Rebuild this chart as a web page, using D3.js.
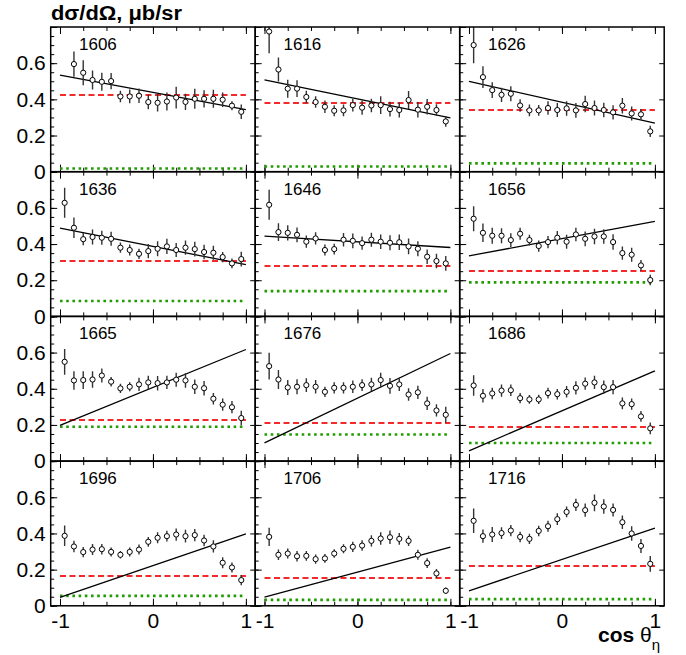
<!DOCTYPE html>
<html>
<head>
<meta charset="utf-8">
<script src="https://cdn.jsdelivr.net/npm/d3@7"></script>
<style>
body { margin: 0; background: #fff; }
text { font-family: "Liberation Sans", Arial, Helvetica, sans-serif; }
</style>
</head>
<body>
<svg id="chart"></svg>
<script>
// bin centres in cos(theta_eta)
var cosTheta = [-0.95, -0.85, -0.75, -0.65, -0.55, -0.45, -0.35, -0.25, -0.15, -0.05,
                0.05, 0.15, 0.25, 0.35, 0.45, 0.55, 0.65, 0.75, 0.85, 0.95];
var energies = ["1606", "1616", "1626", "1636", "1646", "1656",
                "1665", "1676", "1686", "1696", "1706", "1716"];
var yTicks = [0, 0.2, 0.4, 0.6];
var yTickLabels = ["0", "0.2", "0.4", "0.6"];
var xTicks = [-1, 0, 1];
var xTickLabels = ["-1", "0", "1"];

// measured cross sections (first 1606 bin is off scale)
var v1606 = [null, 0.595, 0.547, 0.507, 0.497, 0.501, 0.416, 0.416, 0.420, 0.385, 0.381, 0.388, 0.410, 0.386, 0.403, 0.403, 0.403, 0.398, 0.365, 0.331];
var v1616 = [0.775, 0.565, 0.459, 0.459, 0.413, 0.385, 0.359, 0.337, 0.339, 0.368, 0.354, 0.366, 0.368, 0.346, 0.341, 0.396, 0.343, 0.359, 0.341, 0.278];
var v1626 = [0.700, 0.523, 0.451, 0.425, 0.431, 0.366, 0.339, 0.339, 0.352, 0.341, 0.350, 0.339, 0.374, 0.352, 0.341, 0.328, 0.365, 0.322, 0.317, 0.223];
var v1636 = [0.628, 0.490, 0.427, 0.439, 0.435, 0.429, 0.380, 0.367, 0.346, 0.361, 0.374, 0.387, 0.367, 0.380, 0.372, 0.356, 0.352, 0.328, 0.293, 0.317];
var v1646 = [0.617, 0.466, 0.462, 0.451, 0.413, 0.431, 0.367, 0.372, 0.424, 0.418, 0.405, 0.424, 0.413, 0.407, 0.410, 0.387, 0.374, 0.330, 0.306, 0.293];
var v1656 = [0.540, 0.462, 0.446, 0.446, 0.422, 0.457, 0.422, 0.389, 0.411, 0.435, 0.413, 0.453, 0.429, 0.442, 0.442, 0.411, 0.350, 0.341, 0.282, 0.201];
var v1665 = [0.549, 0.446, 0.448, 0.451, 0.473, 0.439, 0.402, 0.411, 0.424, 0.435, 0.431, 0.435, 0.450, 0.446, 0.411, 0.403, 0.345, 0.312, 0.298, 0.238];
var v1676 = [0.525, 0.451, 0.407, 0.411, 0.420, 0.411, 0.383, 0.405, 0.405, 0.411, 0.420, 0.424, 0.448, 0.416, 0.424, 0.368, 0.380, 0.319, 0.280, 0.256];
var v1686 = [0.418, 0.361, 0.374, 0.390, 0.392, 0.348, 0.341, 0.341, 0.376, 0.370, 0.383, 0.405, 0.428, 0.435, 0.409, 0.409, 0.319, 0.315, 0.247, 0.181];
var v1696 = [0.387, 0.328, 0.297, 0.311, 0.313, 0.298, 0.282, 0.298, 0.311, 0.354, 0.376, 0.385, 0.394, 0.385, 0.391, 0.361, 0.328, 0.238, 0.212, 0.142];
var v1706 = [0.381, 0.282, 0.289, 0.274, 0.276, 0.258, 0.262, 0.289, 0.315, 0.326, 0.333, 0.359, 0.372, 0.379, 0.370, 0.359, 0.282, 0.236, 0.179, 0.083];
var v1716 = [0.470, 0.385, 0.394, 0.402, 0.416, 0.381, 0.370, 0.414, 0.440, 0.479, 0.519, 0.558, 0.529, 0.569, 0.549, 0.530, 0.462, 0.400, 0.331, 0.232];

// errors
var e1606 = [null, 0.070, 0.069, 0.052, 0.050, 0.045, 0.032, 0.038, 0.040, 0.040, 0.048, 0.050, 0.060, 0.045, 0.055, 0.048, 0.050, 0.040, 0.025, 0.040];
var e1616 = [0.120, 0.067, 0.050, 0.046, 0.035, 0.032, 0.035, 0.030, 0.032, 0.035, 0.039, 0.038, 0.049, 0.041, 0.041, 0.050, 0.043, 0.043, 0.032, 0.030];
var e1626 = [0.100, 0.060, 0.043, 0.039, 0.041, 0.034, 0.032, 0.030, 0.037, 0.039, 0.040, 0.041, 0.046, 0.041, 0.040, 0.039, 0.043, 0.039, 0.030, 0.031];
var e1636 = [0.083, 0.057, 0.034, 0.041, 0.039, 0.039, 0.028, 0.030, 0.028, 0.039, 0.041, 0.042, 0.039, 0.039, 0.041, 0.040, 0.039, 0.028, 0.027, 0.041];
var e1646 = [0.083, 0.049, 0.042, 0.041, 0.034, 0.034, 0.030, 0.030, 0.037, 0.041, 0.037, 0.039, 0.040, 0.041, 0.043, 0.044, 0.041, 0.040, 0.040, 0.041];
var e1656 = [0.069, 0.051, 0.044, 0.041, 0.038, 0.033, 0.030, 0.031, 0.034, 0.037, 0.039, 0.037, 0.041, 0.043, 0.040, 0.043, 0.037, 0.039, 0.030, 0.029];
var e1665 = [0.071, 0.051, 0.049, 0.046, 0.039, 0.026, 0.025, 0.025, 0.037, 0.037, 0.040, 0.037, 0.039, 0.040, 0.040, 0.040, 0.032, 0.034, 0.034, 0.040];
var e1676 = [0.074, 0.052, 0.042, 0.041, 0.038, 0.037, 0.028, 0.031, 0.031, 0.034, 0.032, 0.037, 0.041, 0.043, 0.037, 0.035, 0.037, 0.037, 0.034, 0.044];
var e1686 = [0.057, 0.037, 0.032, 0.034, 0.032, 0.028, 0.024, 0.026, 0.030, 0.029, 0.032, 0.037, 0.034, 0.037, 0.037, 0.040, 0.032, 0.031, 0.030, 0.032];
var e1696 = [0.057, 0.032, 0.028, 0.030, 0.029, 0.025, 0.021, 0.025, 0.028, 0.027, 0.030, 0.030, 0.034, 0.035, 0.034, 0.032, 0.034, 0.030, 0.028, 0.028];
var e1706 = [0.051, 0.029, 0.028, 0.029, 0.027, 0.025, 0.024, 0.024, 0.025, 0.028, 0.029, 0.031, 0.034, 0.037, 0.032, 0.028, 0.028, 0.027, 0.025, 0.018];
var e1716 = [0.068, 0.037, 0.041, 0.032, 0.031, 0.029, 0.028, 0.029, 0.030, 0.032, 0.030, 0.034, 0.037, 0.046, 0.040, 0.036, 0.037, 0.040, 0.039, 0.044];

// linear fit at cos=-1 and cos=+1, red dashed and green dotted levels
var fitLeft  = [0.534, 0.508, 0.499, 0.488, 0.444, 0.335, 0.197, 0.101, 0.057, 0.046, 0.048, 0.083];
var fitRight = [0.343, 0.297, 0.269, 0.286, 0.381, 0.525, 0.617, 0.595, 0.499, 0.398, 0.324, 0.429];
var redLevel   = [0.424, 0.379, 0.341, 0.306, 0.276, 0.249, 0.229, 0.208, 0.188, 0.166, 0.151, 0.221];
var greenLevel = [0.018, 0.029, 0.046, 0.085, 0.140, 0.188, 0.190, 0.147, 0.100, 0.055, 0.033, 0.037];

var values = [v1606, v1616, v1626, v1636, v1646, v1656, v1665, v1676, v1686, v1696, v1706, v1716];
var errors = [e1606, e1616, e1626, e1636, e1646, e1656, e1665, e1676, e1686, e1696, e1706, e1716];

var width = 686, height = 655;
var margin = {top: 27, left: 50.7};
var pw = 204.5, ph = 144.7;

var svg = d3.select("#chart")
    .attr("width", width)
    .attr("height", height);

var x = d3.scaleLinear().domain([-1.1, 1.1]).range([0, pw]);
var y = d3.scaleLinear().domain([0, 0.8]).range([ph, 0]);

svg.append("defs").append("clipPath")
    .attr("id", "pclip")
    .append("rect")
    .attr("width", pw)
    .attr("height", ph);

var yMinor = d3.range(0, 0.8001, 0.05);
var xMinor = d3.range(-1, 1.0001, 0.25);

energies.forEach(function(en, i) {
    var col = i % 3, row = Math.floor(i / 3);
    var oy = margin.top + row * ph;
    var g = svg.append("g")
        .attr("transform", "translate(" + (margin.left + col * pw) + "," + oy + ")");
    // put the dashed red line on a whole pixel boundary so it covers two full rows
    var snap = v => Math.round(oy + y(v)) - oy;

    // ticks, all pointing into the frame
    g.append("g").attr("class", "tk").call(d3.axisLeft(y).tickValues(yMinor).tickSize(-3.5).tickFormat(""));
    g.append("g").attr("class", "tk").call(d3.axisLeft(y).tickValues(yTicks.concat([0.8])).tickSize(-6.5).tickFormat(""));
    g.append("g").attr("class", "tk").attr("transform", "translate(" + pw + ",0)")
        .call(d3.axisRight(y).tickValues(yTicks).tickSize(-5).tickFormat(""));
    g.append("g").attr("class", "tk").attr("transform", "translate(0," + ph + ")")
        .call(d3.axisBottom(x).tickValues(xMinor).tickSize(-4).tickFormat(""));
    g.append("g").attr("class", "tk").attr("transform", "translate(0," + ph + ")")
        .call(d3.axisBottom(x).tickValues(xTicks).tickSize(-7).tickFormat(""));
    g.append("g").attr("class", "tk")
        .call(d3.axisTop(x).tickValues(xMinor).tickSize(-4).tickFormat(""));
    g.append("g").attr("class", "tk")
        .call(d3.axisTop(x).tickValues(xTicks).tickSize(-7).tickFormat(""));

    if (col == 0) {
        g.append("g").attr("class", "lab")
            .call(d3.axisLeft(y).tickValues(yTicks).tickSize(0).tickPadding(5)
                .tickFormat((d, k) => yTickLabels[k]));
    }
    if (row == 3) {
        g.append("g").attr("class", "lab")
            .attr("transform", "translate(0," + ph + ")")
            .call(d3.axisBottom(x).tickValues(xTicks).tickSize(0).tickPadding(7.5)
                .tickFormat((d, k) => xTickLabels[k]));
    }

    var inner = g.append("g").attr("clip-path", "url(#pclip)");

    // green dotted level
    inner.append("line")
        .attr("x1", x(-1)).attr("x2", x(1))
        .attr("y1", y(greenLevel[i])).attr("y2", y(greenLevel[i]))
        .attr("stroke", "#1f9c00")
        .attr("stroke-width", 2.6)
        .attr("stroke-dasharray", "2.6,3.6");

    // red dashed level
    inner.append("line")
        .attr("x1", x(-1)).attr("x2", x(1))
        .attr("y1", snap(redLevel[i])).attr("y2", snap(redLevel[i]))
        .attr("stroke", "#f42a2a")
        .attr("stroke-width", 1.8)
        .attr("stroke-dasharray", "6,3.5");

    // fit line
    inner.append("line")
        .attr("x1", x(-1)).attr("x2", x(1))
        .attr("y1", y(fitLeft[i])).attr("y2", y(fitRight[i]))
        .attr("stroke", "#000")
        .attr("stroke-width", 1.3);

    var pts = cosTheta.map(function(c, k) { return {c: c, v: values[i][k], e: errors[i][k]}; })
        .filter(function(d) { return d.v != null; });

    inner.selectAll("line.err")
        .data(pts)
        .enter().append("line")
        .attr("class", "err")
        .attr("x1", d => x(d.c)).attr("x2", d => x(d.c))
        .attr("y1", d => y(d.v - d.e)).attr("y2", d => y(d.v + d.e))
        .attr("stroke", "#333")
        .attr("stroke-width", 1.4);

    inner.selectAll("circle")
        .data(pts)
        .enter().append("circle")
        .attr("cx", d => x(d.c))
        .attr("cy", d => y(d.v))
        .attr("r", 2.6)
        .attr("fill", "#fff")
        .attr("stroke", "#000")
        .attr("stroke-width", 1);

    g.append("text")
        .attr("x", 28.3)
        .attr("y", 23)
        .attr("font-size", 17)
        .text(en);

    g.append("rect")
        .attr("width", pw)
        .attr("height", ph)
        .attr("fill", "none")
        .attr("stroke", "#000")
        .attr("stroke-width", 1.5);
});

svg.selectAll(".tk path").remove();
svg.selectAll(".lab path").remove();
svg.selectAll(".tk line").attr("stroke", "#000").attr("stroke-width", 1);
svg.selectAll(".lab text")
    .attr("font-family", "'Liberation Sans', Arial, sans-serif")
    .attr("font-size", 21)
    .attr("fill", "#000");

// titles
svg.append("text")
    .attr("x", 51)
    .attr("y", 19.5)
    .attr("font-size", 19.5)
    .attr("font-weight", "bold")
    .attr("textLength", 131)
    .attr("lengthAdjust", "spacingAndGlyphs")
    .text("dσ/dΩ, μb/sr");

var xt = svg.append("text")
    .attr("x", 598)
    .attr("y", 641.5)
    .attr("font-size", 21);
xt.append("tspan").attr("font-weight", "bold").text("cos ");
xt.append("tspan").text("θ");
xt.append("tspan").attr("font-size", 15).attr("dy", 8).text("η");
</script>
</body>
</html>
